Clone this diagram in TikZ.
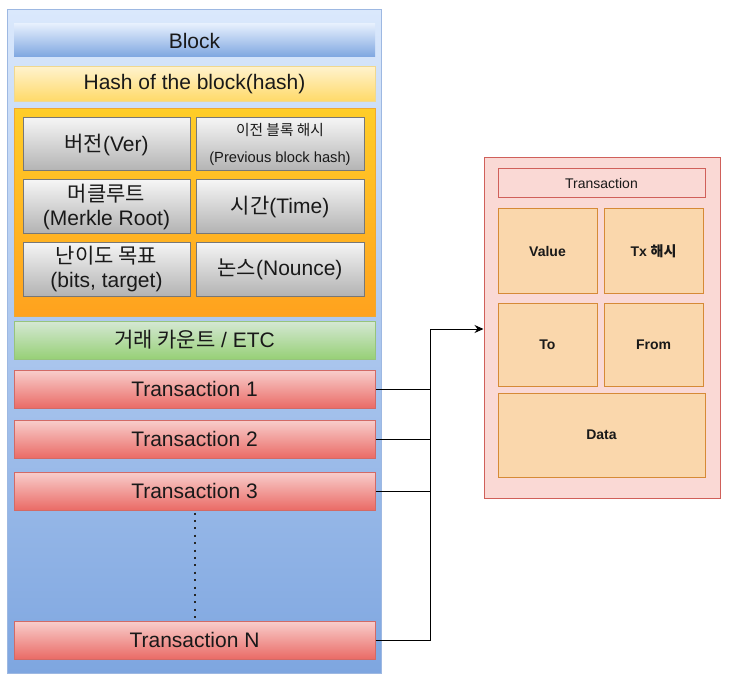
\documentclass[tikz,border=0pt]{standalone}
\usepackage{fontspec}
\setmainfont{Liberation Sans}
\newfontfamily\kr{Noto Sans CJK KR}
\usetikzlibrary{arrows.meta}
\definecolor{bluetop}{HTML}{DAE8FC}
\definecolor{bluebot}{HTML}{7EA6E0}
\definecolor{blueline}{HTML}{9DB8E2}
\definecolor{yeltop}{HTML}{FFF2CC}
\definecolor{yelbot}{HTML}{FFD966}
\definecolor{yelline}{HTML}{F0D890}
\definecolor{ortop}{HTML}{FFCD28}
\definecolor{orbot}{HTML}{FFA21E}
\definecolor{orline}{HTML}{F0A830}
\definecolor{grtop}{HTML}{F5F5F5}
\definecolor{grbot}{HTML}{B3B3B3}
\definecolor{grline}{HTML}{777777}
\definecolor{gntop}{HTML}{D5E8D4}
\definecolor{gnbot}{HTML}{97D077}
\definecolor{gnline}{HTML}{97C47C}
\definecolor{rdtop}{HTML}{F8CECC}
\definecolor{rdbot}{HTML}{EA6B66}
\definecolor{rdline}{HTML}{D26A66}
\definecolor{pinkfill}{HTML}{FAD9D5}
\definecolor{pinkline}{HTML}{D0605A}
\definecolor{peach}{HTML}{FAD7AC}
\definecolor{peachline}{HTML}{D68A36}
\tikzset{
  box/.style={rectangle, inner sep=0pt, line width=1pt, align=center, text=black!90},
  outerbox/.style={box, top color=bluetop, bottom color=bluebot, draw=blueline},
  hdr/.style={box, top color=bluetop!70, bottom color=bluebot, draw=none, font=\fontsize{21}{25}\selectfont},
  hashbox/.style={box, top color=yeltop, bottom color=yelbot, draw=yelline, font=\fontsize{21}{25}\selectfont},
  orbox/.style={box, top color=ortop, bottom color=orbot, draw=orline},
  cell/.style={box, top color=grtop, bottom color=grbot, draw=grline, font=\fontsize{21}{24}\selectfont},
  greenbox/.style={box, top color=gntop, bottom color=gnbot, draw=gnline, font=\fontsize{21}{25}\selectfont},
  txbox/.style={box, top color=rdtop, bottom color=rdbot, draw=rdline, font=\fontsize{21}{25}\selectfont},
  pinkbox/.style={box, fill=pinkfill, draw=pinkline},
  field/.style={box, fill=peach, draw=peachline, font=\fontsize{14}{17}\selectfont\bfseries},
  conn/.style={draw=black, line width=1pt},
}
\begin{document}
\begin{tikzpicture}[x=1pt,y=-1pt]
\useasboundingbox (0,0) rectangle (744,687);
% block container
\node[outerbox, minimum width=374pt, minimum height=663pt] (outer) at (194,341.5) {};
\node[hdr, minimum width=361pt, minimum height=33pt] (hdr) at (194.5,40.5) {Block};
\node[hashbox, minimum width=361pt, minimum height=35pt] (hash) at (194.5,84.5) {Hash of the block(hash)};
\node[orbox, minimum width=361pt, minimum height=207pt] (hdrgrp) at (194.5,212.5) {};
\node[cell, minimum width=167pt, minimum height=53pt] (ver) at (106.5,144.5) {{\kr 버전}(Ver)};
\node[cell, minimum width=168pt, minimum height=53pt, font=\fontsize{14.7}{27}\selectfont] (prev) at (280,144.5) {{\kr 이전 블록 해시}\\(Previous block hash)};
\node[cell, minimum width=167pt, minimum height=53pt] (merkle) at (106.5,206.5) {{\kr 머클루트}\\(Merkle Root)};
\node[cell, minimum width=168pt, minimum height=53pt] (time) at (280,206.5) {{\kr 시간}(Time)};
\node[cell, minimum width=167pt, minimum height=54pt] (bits) at (106.5,269) {{\kr 난이도 목표}\\(bits, target)};
\node[cell, minimum width=168pt, minimum height=54pt] (nonce) at (280,269) {{\kr 논스}(Nounce)};
\node[greenbox, minimum width=361pt, minimum height=38pt] (etc) at (194.5,340) {{\kr 거래 카운트} / ETC};
\node[txbox, minimum width=361pt, minimum height=38pt] (t1) at (194.5,389) {Transaction 1};
\node[txbox, minimum width=361pt, minimum height=38pt] (t2) at (194.5,439) {Transaction 2};
\node[txbox, minimum width=361pt, minimum height=38pt] (t3) at (194.5,491) {Transaction 3};
\node[txbox, minimum width=361pt, minimum height=38pt] (tn) at (194.5,640) {Transaction N};
\draw[line width=2pt, dash pattern=on 2pt off 5.4pt, black!85] ([yshift=-2pt]t3.south) -- (tn.north);
% transaction detail
\node[pinkbox, minimum width=236pt, minimum height=340pt] (cont) at (602,328) {};
\node[pinkbox, minimum width=207pt, minimum height=29pt, font=\fontsize{14}{17}\selectfont] (title) at (601.5,183.5) {Transaction};
\node[field, minimum width=99pt, minimum height=84pt] (value) at (547.5,251) {Value};
\node[field, minimum width=99pt, minimum height=84pt] (txh) at (653.5,251) {Tx {\kr 해시}};
\node[field, minimum width=99pt, minimum height=83pt] (to) at (547.5,344.5) {To};
\node[field, minimum width=99pt, minimum height=83pt] (from) at (653.5,344.5) {From};
\node[field, minimum width=207pt, minimum height=84pt] (data) at (601.5,435) {Data};
% connectors
\coordinate (j) at (430,329);
\draw[conn] (t1.east) -- (t1.east -| j);
\draw[conn] (t2.east) -- (t2.east -| j);
\draw[conn] (t3.east) -- (t3.east -| j);
\draw[conn, -{Stealth[length=9pt,width=8pt]}] (tn.east) -| (j) -- (j -| cont.west);
\end{tikzpicture}
\end{document}
